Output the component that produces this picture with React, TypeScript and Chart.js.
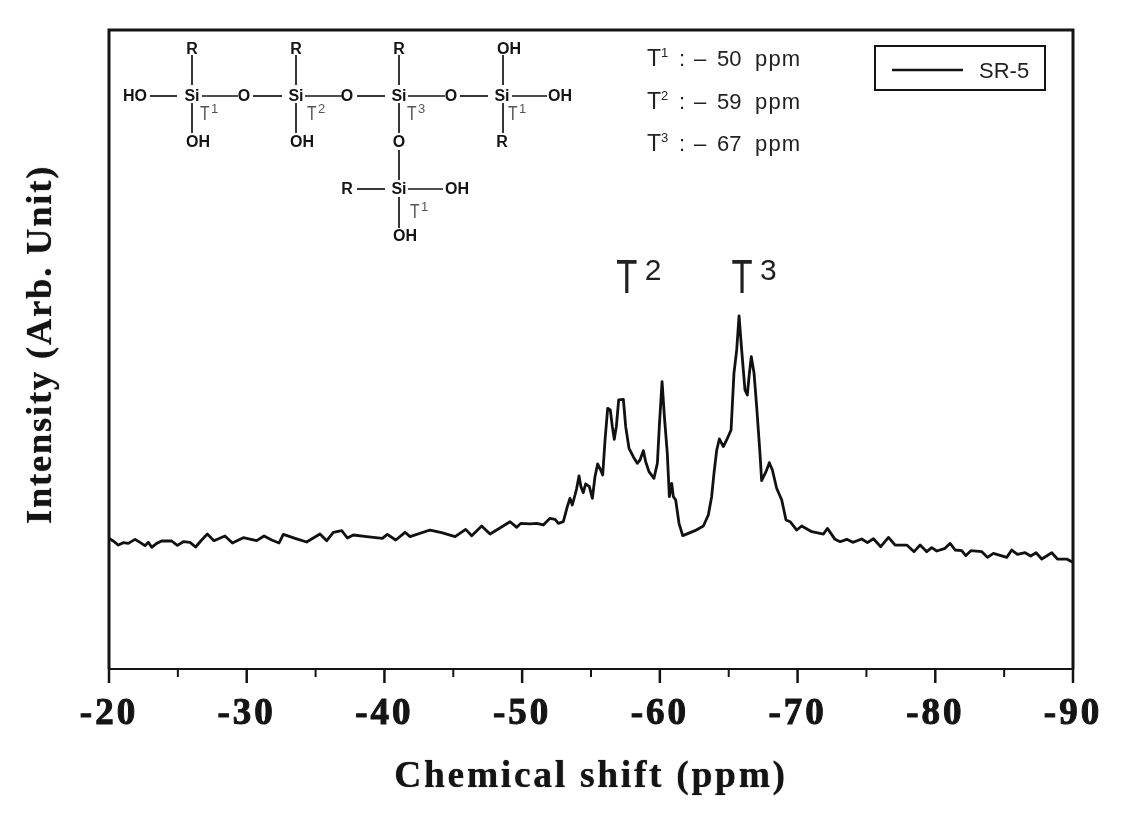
import React, { useEffect, useRef } from "react";
import { Chart, registerables } from "chart.js";

Chart.register(...registerables);

const chemicalShift = [
  -20, -20.31, -20.68, -21.04, -21.4, -21.89, -22.25, -22.61, -22.86, -23.1, -23.46, -23.82, -24.55, -24.96, -25.4,
  -25.88, -26.29, -26.73, -27.14, -27.62, -28.42, -28.96, -29.75, -30.72, -31.26, -31.81, -32.35, -32.66, -33.51,
  -34.35, -35.32, -35.81, -36.29, -36.9, -37.31, -37.74, -38.71, -39.85, -40.21, -40.82, -41.5, -41.86, -43.31,
  -44.16, -45.13, -45.9, -46.34, -47.06, -47.67, -48.15, -49.12, -49.61, -49.9, -50.57, -51.05, -51.54, -52.02,
  -52.39, -52.63, -52.99, -53.28, -53.47, -53.64, -53.84, -53.96, -54.13, -54.27, -54.44, -54.61, -54.88, -55.1,
  -55.29, -55.48, -55.7, -55.85, -56.02, -56.21, -56.4, -56.55, -56.69, -56.84, -57.01, -57.35, -57.52, -57.76,
  -58.07, -58.36, -58.56, -58.8, -58.97, -59.21, -59.57, -59.82, -59.96, -60.16, -60.33, -60.54, -60.69, -60.86,
  -60.98, -61.15, -61.39, -61.66, -62.07, -62.55, -63.16, -63.52, -63.76, -63.93, -64.13, -64.32, -64.61, -64.85,
  -65.17, -65.38, -65.58, -65.75, -65.94, -66.18, -66.35, -66.5, -66.64, -66.84, -67.03, -67.27, -67.39, -67.71,
  -67.95, -68.17, -68.48, -68.85, -69.16, -69.46, -69.94, -70.3, -71.03, -71.88, -72.17, -72.72, -73.09, -73.57,
  -74.01, -74.66, -75.07, -75.51, -76.04, -76.6, -77.08, -77.93, -78.46, -78.9, -79.38, -79.74, -80.11, -80.71,
  -81.08, -81.44, -81.92, -82.21, -82.58, -83.38, -83.79, -84.22, -85.19, -85.55, -85.97, -86.52, -86.93, -87.32,
  -87.73, -88.46, -88.87, -89.55, -89.91, -90,
];

const sr5Intensity = [
  20.45, 20.03, 19.4, 19.77, 19.66, 20.29, 19.82, 19.3, 19.82, 19.04, 19.66, 20.03, 20.03, 19.35, 19.92,
  19.82, 19.09, 20.19, 21.12, 20.08, 20.81, 19.72, 20.55, 20.08, 20.81, 20.19, 19.72, 21.07, 20.45,
  19.87, 21.12, 20.08, 21.39, 21.65, 20.5, 20.97, 20.71, 20.45, 21.07, 20.19, 21.39, 20.71, 21.75,
  21.33, 20.71, 21.85, 20.86, 22.38, 21.12, 21.75, 23.05, 22.17, 22.79, 22.7, 22.8, 22.54, 23.58,
  23.43, 22.8, 23.06, 25.41, 26.71, 25.67, 27.23, 28.28, 30.21, 28.54, 27.6, 28.96, 28.54, 26.71,
  30.1, 32.09, 31.15, 30.37, 35.84, 40.8, 40.54, 37.93, 35.95, 37.93, 42.1, 42.2, 37.93, 34.54,
  33.23, 32.19, 32.71, 34.17, 32.45, 30.89, 29.84, 32.19, 37.93, 44.97, 39.49, 33.75, 26.97, 29.06,
  26.97, 26.45, 22.8, 20.87, 21.23, 21.65, 22.38, 24.1, 26.97, 30.62, 34.28, 36.0, 34.8, 35.84,
  37.41, 46.27, 49.93, 55.25, 49.93, 43.67, 42.88, 46.27, 48.88, 46.27, 41.06, 33.75, 29.48, 30.89,
  32.29, 31.15, 28.28, 26.45, 23.32, 23.05, 21.75, 22.38, 21.49, 21.12, 22.01, 20.29, 19.92, 20.29,
  19.82, 20.34, 19.77, 20.39, 19.14, 20.6, 19.4, 19.4, 18.36, 19.4, 18.36, 18.99, 18.46, 18.88,
  19.66, 18.62, 18.52, 17.73, 18.52, 18.36, 17.47, 18.1, 17.47, 18.62, 17.94, 18.2, 17.68, 18.2,
  17.21, 18.2, 17.21, 17.21, 16.79, 16.7,
];

const seriesName = "SR-5";
const xTitle = "Chemical shift (ppm)";
const yTitle = "Intensity (Arb. Unit)";
const peakLabels = [
  { sup: "2", shift: -57.6 },
  { sup: "3", shift: -65.97 },
];
const assignmentRows = [
  { sup: "1", ppm: "50" },
  { sup: "2", ppm: "59" },
  { sup: "3", ppm: "67" },
];

// Structure diagram (page furniture, not chart data)
const atoms: [string, number, number][] = [
  ["R", 192, 49], ["R", 296, 49], ["R", 399, 49], ["OH", 509, 49],
  ["HO", 135, 96], ["Si", 192, 96], ["O", 244, 96], ["Si", 296, 96], ["O", 347, 96], ["Si", 399, 96],
  ["O", 451, 96], ["Si", 502, 96], ["OH", 560, 96],
  ["OH", 198, 142], ["OH", 302, 142], ["O", 399, 142], ["R", 502, 142],
  ["R", 347, 189], ["Si", 399, 189], ["OH", 457, 189], ["OH", 405, 236],
];
const bonds: [number, number, number, number][] = [
  [150, 96, 177, 96], [202, 96, 238, 96], [253, 96, 282, 96], [305, 96, 342, 96], [357, 96, 385, 96],
  [408, 96, 445, 96], [460, 96, 488, 96], [512, 96, 547, 96],
  [192, 55, 192, 85], [192, 103, 192, 133], [296, 55, 296, 85], [296, 103, 296, 133],
  [399, 55, 399, 85], [399, 103, 399, 133], [399, 150, 399, 180], [399, 197, 399, 228],
  [503, 55, 503, 85], [503, 103, 503, 133],
  [357, 189, 385, 189], [408, 189, 443, 189],
];
const siteLabels: [string, number, number][] = [
  ["1", 200, 120], ["2", 307, 120], ["3", 407, 120], ["1", 508, 120], ["1", 410, 218],
];

const INK = "#141414";
const SERIF = '"Liberation Serif", serif';
const SANS = '"Liberation Sans", sans-serif';

function squeezedT(ctx: any, font: string, px: number, base: number, sx: number) {
  ctx.save();
  ctx.translate(px, base);
  ctx.scale(sx, 1);
  ctx.font = font;
  ctx.fillText("T", 0, 0);
  ctx.restore();
}

const overlay = {
  id: "overlay",
  afterLayout(chart: any) {
    const patch = (s: any, labelSpacing: string, titleSpacing: string, dy: number) => {
      if (s.__patched) return;
      s.__patched = true;
      const labels = s.drawLabels;
      const title = s.drawTitle;
      s.drawLabels = function (...args: any[]) {
        const ctx = this.ctx;
        ctx.save();
        ctx.letterSpacing = labelSpacing;
        labels.apply(this, args);
        ctx.restore();
      };
      s.drawTitle = function (...args: any[]) {
        const ctx = this.ctx;
        ctx.save();
        ctx.translate(0, dy);
        ctx.letterSpacing = titleSpacing;
        ctx.shadowColor = "rgba(0,0,0,0.8)";
        ctx.shadowBlur = 1;
        title.apply(this, args);
        ctx.restore();
      };
    };
    patch(chart.scales.x, "3px", "2.7px", 0);
    patch(chart.scales.y, "0px", "1.8px", -5);
  },
  afterDraw(chart: any) {
    const { ctx, chartArea: a, scales } = chart;
    const x = scales.x;
    const y = scales.y;
    ctx.save();
    ctx.letterSpacing = "0px";
    ctx.strokeStyle = INK;
    ctx.fillStyle = INK;

    // frame
    ctx.lineWidth = 3;
    ctx.beginPath();
    ctx.moveTo(a.left, a.bottom);
    ctx.lineTo(a.left, a.top);
    ctx.lineTo(a.right, a.top);
    ctx.lineTo(a.right, a.bottom);
    ctx.stroke();
    ctx.lineWidth = 2;
    ctx.beginPath();
    ctx.moveTo(a.left, a.bottom);
    ctx.lineTo(a.right, a.bottom);
    ctx.stroke();

    // ticks
    for (const t of x.ticks) {
      const px = x.getPixelForValue(t.value);
      const major = t.value % 10 === 0;
      ctx.lineWidth = major ? 2.5 : 2;
      ctx.beginPath();
      ctx.moveTo(px, a.bottom);
      ctx.lineTo(px, a.bottom + (major ? 14 : 8));
      ctx.stroke();
    }

    // structure
    ctx.lineWidth = 1.7;
    for (const [x1, y1, x2, y2] of bonds) {
      ctx.beginPath();
      ctx.moveTo(x1, y1);
      ctx.lineTo(x2, y2);
      ctx.stroke();
    }
    ctx.textAlign = "center";
    ctx.textBaseline = "middle";
    ctx.font = `bold 16px ${SANS}`;
    for (const [s, ax, ay] of atoms) ctx.fillText(s, ax, ay + 0.5);

    ctx.textAlign = "left";
    ctx.textBaseline = "alphabetic";
    ctx.fillStyle = "#555";
    for (const [sup, sx, sy] of siteLabels) {
      squeezedT(ctx, `21px ${SANS}`, sx, sy, 0.75);
      ctx.font = `13px ${SANS}`;
      ctx.fillText(sup, sx + 11, sy - 7);
    }

    // peak labels
    ctx.fillStyle = "#222";
    for (const p of peakLabels) {
      const px = x.getPixelForValue(p.shift);
      const base = y.getPixelForValue(58.8);
      ctx.textAlign = "center";
      squeezedT(ctx, `48px ${SANS}`, px, base, 0.72);
      ctx.textAlign = "left";
      ctx.font = `30px ${SANS}`;
      ctx.fillText(p.sup, px + 18, base - 13);
    }

    // assignments
    ctx.fillStyle = "#222";
    assignmentRows.forEach((r, i) => {
      const base = 66 + i * 42.5;
      ctx.letterSpacing = "0px";
      ctx.font = `23px ${SANS}`;
      ctx.fillText("T", 647, base);
      ctx.font = `13px ${SANS}`;
      ctx.fillText(r.sup, 661, base - 9);
      ctx.font = `22px ${SANS}`;
      ctx.fillText(":", 679, base);
      ctx.fillText("–", 694, base);
      ctx.fillText(r.ppm, 717, base);
      ctx.letterSpacing = "1.2px";
      ctx.fillText("ppm", 755, base);
    });

    // legend
    ctx.letterSpacing = "0px";
    ctx.lineWidth = 2;
    ctx.strokeStyle = INK;
    ctx.strokeRect(875, 46, 170, 44);
    ctx.lineWidth = 2.5;
    ctx.beginPath();
    ctx.moveTo(892, 70);
    ctx.lineTo(963, 70);
    ctx.stroke();
    ctx.font = `22px ${SANS}`;
    ctx.fillStyle = "#222";
    ctx.fillText(chart.data.datasets[0].label, 979, 78);
    ctx.restore();
  },
};

export default function App() {
  const ref = useRef<HTMLCanvasElement>(null);
  useEffect(() => {
    document.body.style.margin = "0";
    document.body.style.background = "#fff";
    const chart = new Chart(ref.current!, {
      type: "scatter",
      data: {
        datasets: [
          {
            label: seriesName,
            data: chemicalShift.map((s, i) => ({ x: s, y: sr5Intensity[i] })),
            showLine: true,
            borderColor: "#111",
            borderWidth: 2.8,
            pointRadius: 0,
            tension: 0,
            borderJoinStyle: "round",
          },
        ],
      },
      plugins: [overlay],
      options: {
        responsive: false,
        animation: false,
        layout: { padding: { left: 0, top: 30, right: 51, bottom: 0 } },
        plugins: { legend: { display: false }, tooltip: { enabled: false }, title: { display: false } },
        scales: {
          x: {
            type: "linear",
            reverse: true,
            min: -90,
            max: -20,
            afterFit(s: any) {
              s.height = 150;
              s.paddingLeft = 0;
              s.paddingRight = 0;
            },
            grid: { display: false, drawTicks: false },
            border: { display: false },
            ticks: {
              stepSize: 5,
              autoSkip: false,
              maxRotation: 0,
              minRotation: 0,
              padding: 23,
              color: INK,
              textStrokeColor: INK,
              textStrokeWidth: 1,
              font: { family: SERIF, size: 37, weight: "bold" },
              callback: (v: any) => (Number(v) % 10 === 0 ? String(v) : ""),
            },
            title: {
              display: true,
              text: xTitle,
              color: INK,
              font: { family: SERIF, size: 37.5, weight: "bold" },
              padding: { top: 0, bottom: 19 },
            },
          },
          y: {
            min: 0,
            max: 100,
            afterFit(s: any) {
              s.width = 109;
            },
            grid: { display: false, drawTicks: false },
            border: { display: false },
            ticks: { display: false },
            title: {
              display: true,
              text: yTitle,
              color: INK,
              font: { family: SERIF, size: 36.5, weight: "bold" },
              padding: { top: 20, bottom: 0 },
            },
          },
        },
      } as any,
    });
    return () => chart.destroy();
  }, []);
  return <canvas ref={ref} width={1124} height={819} style={{ display: "block" }} />;
}
